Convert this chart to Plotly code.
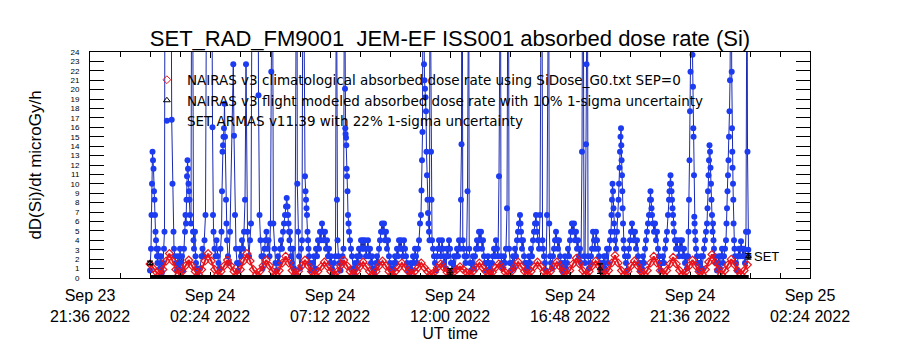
import pandas as pd
import plotly.graph_objects as go

# ---------------- data ----------------
t_start = pd.Timestamp("2022-09-24 00:00")

# NAIRAS v3 climatological absorbed dose rate (microGy/h), sampled every 465 s
red_vals = [1.5, 1.0, 0.6,
    0.4,0.9,1.8,2.6,1.8,0.9, 0.4,0.7,1.3,1.9,1.3,0.7,
    0.4,0.9,1.8,2.6,1.8,0.9, 0.4,0.7,1.3,1.9,1.3,0.7,
    0.4,0.9,1.8,2.6,1.8,0.9, 0.4,0.7,1.3,1.9,1.3,0.7,
    0.4,0.8,1.6,2.3,1.6,0.8, 0.4,0.7,1.3,1.9,1.3,0.7,
    0.4,0.7,1.2,1.7,1.2,0.7, 0.4,0.7,1.3,1.9,1.3,0.7,
    0.4,0.7,1.2,1.7,1.2,0.7, 0.4,0.7,1.3,1.8,1.3,0.7,
    0.4,0.7,1.1,1.6,1.1,0.7, 0.4,0.7,1.1,1.6,1.1,0.7,
    0.4,0.6,1.1,1.5,1.1,0.6, 0.4,0.6,0.9,1.2,0.9,0.6,
    0.4,0.7,1.1,1.6,1.1,0.7, 0.4,0.6,1.1,1.5,1.1,0.6,
    0.4,0.7,1.2,1.7,1.2,0.7, 0.4,0.7,1.2,1.7,1.2,0.7,
    0.4,0.7,1.2,1.7,1.2,0.7, 0.4,0.8,1.5,2.1,1.5,0.8,
    0.4,0.7,1.3,1.8,1.3,0.7, 0.4,0.8,1.6,2.4,1.6,0.8,
    0.4,0.7,1.3,1.8,1.3,0.7, 0.4,0.8,1.6,2.3,1.6,0.8,
    0.4,0.8,1.5,2.2,1.5,0.8, 0.4,0.7,1.3,1.9,1.3,0.7,
    0.4,0.9,1.7,2.5,1.7,0.9, 0.4,0.8,1.4,2.0,1.4,0.8,
    0.4, 0.8, 1.4]
red_times = pd.date_range(t_start, periods=len(red_vals), freq="465s")

# NAIRAS v3 flight modeled (few points with 10% 1-sigma) and baseline
black_min = [0.0, 720.0, 1080.0, 1436.0]
black_vals = [1.6, 0.7, 1.0, 2.3]
black_err = [0.2, 0.3, 0.5, 0.3]
base_min = [0.0, 360.0, 720.0, 1080.0, 1437.0]
base_vals = [0.0, 0.0, 0.0, 0.0, 0.0]

# SET ARMAS v11.39 (minutes after 2022-09-24 00:00, microGy/h)
blue_min = [
 0,2.4,3.6,4.8,6.0,7.2,8.4,9.6,10.8,12.0,13.2,14.4,15.6,16.8,18.0,19.2,21.6,24.0,26.4,28.8,
 31.2,33.6,34.8,36.0,50.4,52.1,54.0,56.4,57.6,60.0,62.4,64.8,
 67.2,69.6,72.0,74.4,76.8,79.2,81.6,84.0,85.2,86.4,87.6,88.8,90.0,91.2,92.4,93.6,94.8,96.0,98.4,100.1,102.0,103.2,104.4,105.6,108.0,109.2,110.4,112.8,115.2,
 120.0,123.6,126.0,128.4,130.8,133.2,136.1,148.1,150.0,151.2,152.4,154.8,157.2,159.6,162.0,164.4,166.8,169.2,171.6,172.8,174.0,175.2,176.4,177.6,178.8,180.0,182.4,183.6,184.8,187.2,189.6,192.0,199.9,201.6,204.0,206.4,208.8,211.2,
 213.6,216.0,218.4,220.8,223.2,225.6,228.0,230.4,234.0,237.6,240.0,242.4,245.3,259.2,260.4,262.8,265.2,267.6,270.0,272.4,274.8,277.2,279.6,282.0,284.4,286.8,289.2,291.1,292.3,294.0,
 296.0,298.8,301.2,303.6,307.2,309.6,312.0,314.4,316.8,319.2,321.6,324.0,326.4,328.1,330.0,331.2,332.4,333.6,334.8,336.0,337.2,338.4,340.8,343.2,345.6,348.0,351.6,352.8,353.5,355.2,357.6,360.0,362.4,364.8,367.2,368.4,372.0,373.2,374.4,375.6,376.8,378.0,379.2,380.4,381.6,384.0,386.4,
 391.2,393.6,396.0,398.4,400.8,403.2,405.6,408.0,410.4,412.8,415.2,417.6,420.0,422.4,424.8,427.2,429.6,432.0,434.4,436.8,439.2,441.6,445.2,447.4,448.6,450.0,452.4,454.8,457.2,459.6,462.0,464.4,466.8,468.0,468.7,469.4,470.4,471.1,471.8,472.8,474.0,475.2,476.4,477.6,480.0,482.4,484.8,487.2,
 489.6,492.0,494.4,496.8,499.2,501.6,504.0,506.4,508.8,511.2,513.6,516.0,518.4,520.8,523.2,525.6,528.0,530.4,532.8,535.2,537.6,540.0,542.4,544.8,547.2,549.6,552.0,554.4,556.8,559.2,561.6,564.0,566.4,568.8,571.2,573.6,576.0,578.4,580.8,583.2,585.6,588.0,590.4,592.8,595.2,597.6,600.0,602.4,604.8,607.2,609.6,612.0,614.4,616.8,619.2,621.6,624.0,626.4,628.8,631.2,633.6,636.0,638.4,640.8,643.2,645.6,648.0,
 650.4,651.6,652.8,654.0,655.2,656.4,657.6,658.8,660.0,661.2,662.4,663.6,664.8,666.0,667.2,668.4,669.6,670.8,672.0,673.2,674.4,675.6,676.8,679.2,681.6,684.0,686.4,688.8,691.2,693.6,696.0,698.4,700.8,703.2,705.6,708.0,710.4,712.8,715.2,717.6,720.0,722.4,724.8,
 727.2,729.6,732.0,734.4,736.8,739.2,741.6,744.0,746.4,747.6,748.3,749.5,750.7,752.4,754.8,757.2,759.6,762.0,763.7,764.9,766.1,768.0,770.4,772.8,775.2,777.6,780.0,782.4,784.8,787.2,789.6,792.0,794.4,796.8,799.2,801.6,804.0,806.4,808.8,811.2,813.6,816.0,818.4,820.8,823.2,825.6,828.0,830.4,832.8,835.2,837.6,840.0,841.2,842.4,844.8,847.2,849.6,852.0,854.4,856.8,859.2,860.4,861.6,864.0,866.4,
 868.8,871.2,873.6,876.0,878.4,880.8,883.2,885.6,888.0,889.2,890.4,891.6,892.8,895.2,897.6,900.0,902.4,904.8,907.2,909.6,912.0,914.4,916.8,919.2,921.6,924.0,926.4,927.6,928.8,931.2,933.6,936.0,939.6,940.8,942.0,943.2,945.6,948.0,950.4,952.8,955.7,956.9,958.1,960.0,962.4,964.8,
 967.2,969.6,972.0,974.4,976.8,979.2,981.6,984.0,986.4,988.8,991.2,993.6,996.0,998.4,1000.8,1003.2,1005.6,1008.0,1010.4,1012.8,1015.2,1017.6,1020.0,1022.4,1024.8,1027.2,1029.6,1032.0,1034.4,1036.8,1038.5,1039.7,1041.6,1044.0,1046.4,1047.6,1048.6,1049.8,1051.2,1053.6,1056.0,1058.4,1060.8,1063.2,1065.6,1068.0,1070.4,1072.8,1075.2,1077.6,1080.0,1082.4,
 1084.8,1087.2,1089.6,1092.0,1094.4,1096.8,1099.2,1101.6,1104.0,1106.4,1107.6,1108.8,1110.0,1111.2,1112.4,1113.6,1114.8,1116.0,1118.4,1120.8,1123.2,1124.4,1125.6,1126.8,1128.0,1129.2,1130.4,1131.1,1131.8,1132.8,1133.5,1134.2,1135.2,1136.4,1137.6,1140.0,1142.4,1144.8,1147.2,1149.6,1152.0,1154.4,1156.8,1159.2,1161.6,1164.0,1166.4,1168.8,1171.2,1173.6,1176.0,
 1178.4,1180.8,1183.2,1185.6,1188.0,1190.4,1192.8,1195.2,1197.6,1200.0,1201.2,1202.4,1203.6,1204.8,1207.2,1209.6,1212.0,1214.4,1216.8,1219.2,1221.6,1224.0,1226.4,1228.8,1231.2,1233.6,1236.0,1238.4,1240.8,1243.2,1245.6,1246.8,1248.0,1249.2,1250.4,1251.6,1252.8,1254.0,1255.2,1256.4,1257.6,1260.0,1262.4,1264.8,1267.2,1269.6,1272.0,1274.4,1276.8,1279.2,1281.6,1284.0,1286.4,1288.8,1291.2,1292.4,1293.6,1294.8,1296.0,1297.2,1298.4,1300.8,1302.0,1303.2,1303.9,1304.6,1305.6,1306.3,1307.0,1308.0,1309.2,1310.4,1312.8,1315.2,1317.6,
 1320.0,1322.4,1324.8,1327.2,1329.6,1332.0,1334.4,1336.8,1338.0,1339.2,1340.4,1341.6,1342.8,1344.0,1345.2,1346.4,1347.6,1348.8,1350.0,1351.2,1352.4,1353.6,1356.0,1358.4,1360.8,1363.2,1365.6,1368.0,1370.4,1372.8,1375.2,1377.6,1380.0,1382.4,1383.6,1384.8,1386.0,1387.2,1388.4,1389.6,1390.8,1392.0,1393.2,1394.9,1396.1,1396.8,1397.5,1398.2,1399.2,1399.9,1400.6,1401.6,1402.8,1404.0,1406.4,1408.8,1411.2,1413.6,1416.0,1418.4,1420.8,1423.2,1425.6,1428.0,1430.4,1431.6,1432.8,1434.0,1435.2,1435.9,1436.6]
blue_val = [
 0.8,3.1,6.7,10.0,13.4,12.5,11.6,9.2,8.3,6.7,4.9,4.0,3.1,2.3,1.6,3.1,2.3,1.0,2.3,0.6,
 1.6,3.1,4.9,38,38,16.8,10.0,4.9,3.1,2.3,1.6,0.8,
 2.3,1.0,3.1,1.6,2.3,0.8,3.1,4.9,6.7,5.8,8.3,10.8,12.5,11.6,10.0,9.2,8.3,6.7,5.8,38,38,4.9,4.0,3.1,4.9,2.3,1.6,1.0,0.6,
 1.0,2.3,3.1,2.3,4.0,6.7,38,38,16.0,6.7,4.9,3.1,2.3,4.0,2.3,1.6,1.0,3.1,4.9,9.2,13.4,14.1,15.0,15.9,18.5,15.0,8.3,5.8,4.0,2.3,1.6,4.9,22.7,15.1,6.7,3.1,1.6,0.8,
 1.6,3.1,2.3,4.0,3.1,4.9,8.3,22.7,4.9,2.3,4.0,5.8,38,38,19.4,6.7,4.0,2.3,1.0,2.3,3.1,4.0,4.9,3.1,4.0,2.3,5.8,21.9,38,38,
 5.8,3.1,1.6,0.8,2.3,1.6,3.1,4.0,3.1,4.9,5.8,6.7,7.6,8.5,7.6,6.7,5.8,4.9,4.0,4.9,3.1,2.3,1.6,3.1,1.0,0.6,38,38,10.0,4.9,2.3,1.0,3.1,4.0,38,38,10.8,9.2,8.3,7.4,6.7,4.9,4.0,3.1,2.3,1.6,0.8,
 1.6,2.3,1.0,3.1,2.3,4.0,3.1,4.9,4.0,5.8,4.9,4.0,4.9,3.1,4.0,2.3,3.1,1.6,2.3,1.0,0.6,1.6,2.3,38,8.3,4.0,2.3,1.6,0.8,1.6,2.3,3.1,38,20.1,15.9,15.3,14.9,14.1,11.6,10.8,9.2,6.7,5.8,4.9,4.0,3.1,2.3,1.0,
 0.6,1.6,1.0,2.3,1.6,3.1,2.3,4.0,3.1,4.0,3.1,4.0,2.3,3.1,4.0,2.3,3.1,1.6,2.3,1.0,0.6,1.0,1.6,2.3,1.6,3.1,4.0,4.9,5.8,4.9,5.8,4.0,4.9,3.1,4.0,2.3,1.6,1.0,0.6,1.0,1.6,2.3,1.6,3.1,2.3,4.0,3.1,4.0,3.1,2.3,4.0,3.1,2.3,1.6,1.0,0.6,1.0,1.6,0.8,2.3,1.6,3.1,2.3,1.6,3.1,4.0,5.8,
 6.7,9.3,12.5,15.5,38,38,22.7,21.0,20.1,19.2,17.7,13.4,10.9,8.3,6.9,5.8,4.9,4.0,38,38,13.4,8.3,4.0,3.1,2.3,1.6,0.8,2.3,3.1,4.0,3.1,2.3,4.0,3.1,1.6,2.3,1.0,3.1,2.3,4.0,3.1,1.6,0.8,
 1.6,2.3,1.0,2.3,3.1,2.3,4.0,3.1,8.3,14.2,38,38,4.0,3.1,2.3,1.6,2.3,9.2,38,38,3.1,1.6,0.8,1.6,2.3,1.0,2.3,3.1,4.0,3.1,4.9,4.0,4.9,3.1,4.0,2.3,1.6,0.8,1.6,2.3,1.6,1.0,0.6,1.6,2.3,3.1,2.3,4.0,3.1,2.3,10.8,38,38,2.3,1.6,1.0,2.3,1.6,3.1,7.4,38,38,3.1,1.6,0.8,
 1.6,2.3,1.0,3.1,2.3,4.0,4.9,5.8,6.7,5.8,4.9,4.0,3.1,4.0,2.3,1.6,0.8,1.6,1.0,2.3,1.6,3.1,2.3,4.0,4.9,5.8,6.7,5.8,4.9,4.0,3.1,6.7,38,38,4.0,3.1,2.3,1.6,0.8,6.7,38,38,5.8,2.3,1.6,1.0,
 2.3,3.1,4.0,4.9,4.0,3.1,4.0,2.3,1.6,1.0,0.6,1.6,2.3,1.0,1.6,3.1,2.3,4.0,4.9,5.8,4.9,5.8,4.0,4.9,3.1,4.0,2.3,3.1,1.6,13.4,38,38,2.3,1.6,14.2,22.7,38,38,2.3,1.0,1.6,2.3,3.1,4.9,4.0,3.1,4.9,4.0,3.1,2.3,1.6,1.0,
 0.6,1.6,2.3,1.0,2.3,3.1,1.6,3.1,4.0,4.9,6.7,8.3,10.0,9.2,7.4,5.8,4.9,4.0,3.1,4.9,6.7,8.3,10.0,11.7,13.4,15.0,15.9,14.1,12.5,10.9,9.2,7.4,5.8,4.0,3.1,2.3,1.6,0.8,2.3,3.1,4.0,4.9,5.8,4.9,4.0,4.9,3.1,4.0,2.3,1.6,0.8,
 1.6,1.0,2.3,1.6,3.1,4.0,4.9,5.8,6.7,8.3,9.2,8.3,7.4,6.7,5.8,4.9,5.8,4.0,4.9,3.1,2.3,1.6,0.8,1.6,2.3,1.6,3.1,4.0,4.9,6.7,8.3,9.2,10.0,10.9,10.0,9.2,8.3,7.4,6.7,5.8,4.9,4.0,3.1,4.0,3.1,2.3,4.0,3.1,4.0,2.3,3.1,1.6,2.3,1.0,2.3,4.9,8.3,12.5,17.7,21.9,38,38,23.7,20.3,15.9,15.0,10.9,6.5,5.8,4.9,4.0,3.1,2.3,1.6,0.8,
 1.6,2.3,1.0,2.3,3.1,4.0,4.9,5.8,7.4,9.2,10.9,12.5,14.1,13.4,11.7,10.0,8.3,6.7,4.9,5.8,4.0,3.1,2.3,1.6,0.8,1.6,2.3,1.0,2.3,3.1,1.6,2.3,3.1,4.0,5.8,7.4,9.2,10.9,12.5,15.0,17.7,21.0,38,38,21.9,15.9,13.4,11.7,10.0,8.3,5.8,4.0,3.1,2.3,1.6,0.8,2.3,3.1,2.3,3.9,3.1,2.3,3.1,1.6,4.9,38,38,13.4,4.9,3.0,2.3]

x_tick_times = ["2022-09-23 21:36", "2022-09-24 02:24", "2022-09-24 07:12", "2022-09-24 12:00",
                "2022-09-24 16:48", "2022-09-24 21:36", "2022-09-25 02:24"]
x_tick_text = ["Sep 23<br>21:36 2022", "Sep 24<br>02:24 2022", "Sep 24<br>07:12 2022",
               "Sep 24<br>12:00 2022", "Sep 24<br>16:48 2022", "Sep 24<br>21:36 2022",
               "Sep 25<br>02:24 2022"]
y_ticks = list(range(0, 25))

# ---------------- figure ----------------
def mins(m):
    return [t_start + pd.Timedelta(minutes=v) for v in m]

FONT = "Liberation Sans"
LFONT = "DejaVu Sans"
BLUE_M = "#1d3cf2"
BLUE_L = "#1a2ab0"
RED = "#e8141c"

fig = go.Figure()

fig.add_trace(go.Scatter(x=mins(blue_min), y=blue_val, mode="lines+markers",
                         line=dict(color=BLUE_L, width=1),
                         marker=dict(color=BLUE_M, size=6, symbol="circle"),
                         showlegend=False, cliponaxis=True))
fig.add_trace(go.Scatter(x=red_times, y=red_vals, mode="lines+markers",
                         line=dict(color=RED, width=2),
                         marker=dict(color=RED, size=6, symbol="diamond-open", line=dict(width=1.2)),
                         showlegend=False))
fig.add_trace(go.Scatter(x=mins(base_min), y=base_vals, mode="lines",
                         line=dict(color="black", width=6), showlegend=False))
fig.add_trace(go.Scatter(x=mins(black_min), y=black_vals, mode="markers",
                         marker=dict(color="black", size=5, symbol="triangle-up-open"),
                         error_y=dict(type="data", array=black_err, color="black", thickness=1.2, width=3),
                         showlegend=False))

# legend entries
fig.add_trace(go.Scatter(x=[None], y=[None], mode="markers", legendrank=1,
                         marker=dict(color=RED, size=6, symbol="diamond-open"),
                         name="NAIRAS v3 climatological absorbed dose rate using SiDose_G0.txt SEP=0"))
fig.add_trace(go.Scatter(x=[None], y=[None], mode="markers", legendrank=2,
                         marker=dict(color="black", size=6, symbol="triangle-up-open"),
                         name="NAIRAS v3 flight modeled absorbed dose rate with 10% 1-sigma uncertainty"))
fig.add_trace(go.Scatter(x=[None], y=[None], mode="markers", legendrank=3,
                         marker=dict(color=BLUE_M, size=6, symbol="circle"),
                         name="SET ARMAS v11.39 with 22% 1-sigma uncertainty"))

fig.add_annotation(x=mins([blue_min[-1]])[0], y=blue_val[-1], text="SET", showarrow=False,
                   xanchor="left", yanchor="middle", xshift=3,
                   font=dict(family=FONT, size=13, color="black"))

fig.update_layout(
    width=900, height=350,
    margin=dict(l=90, r=90, t=52, b=72),
    paper_bgcolor="white", plot_bgcolor="white",
    font=dict(family=FONT, color="black"),
    title=dict(text="SET_RAD_FM9001\u00a0\u00a0JEM-EF ISS001 absorbed dose rate (Si)",
               x=0.5, xanchor="center", y=1 - 38 / 350, yanchor="middle",
               font=dict(family=FONT, size=22, color="black")),
    legend=dict(x=0.079, y=0.945, xanchor="left", yanchor="top",
                bgcolor="rgba(0,0,0,0)", borderwidth=0,
                font=dict(family=LFONT, size=13.5, color="black"),
                itemwidth=30, tracegroupgap=0),
    showlegend=True,
)
fig.update_xaxes(
    type="date",
    range=["2022-09-23 21:36", "2022-09-25 02:24"],
    tickmode="array", tickvals=x_tick_times, ticktext=x_tick_text,
    ticks="inside", ticklen=6, tickcolor="black", mirror="allticks",
    showline=True, linecolor="black", linewidth=1, showgrid=False, zeroline=False,
    tickfont=dict(family=FONT, size=16, color="black"),
    ticklabelstandoff=3,
    minor=dict(ticks="inside", ticklen=5, tickcolor="black",
               dtick=72 * 60 * 1000, tick0="2022-09-23 21:36", showgrid=False),
    title=dict(text="UT time", font=dict(family=FONT, size=16, color="black"), standoff=2),
)
fig.update_yaxes(
    range=[0, 24], tickmode="array", tickvals=y_ticks, ticktext=[str(v) for v in y_ticks],
    ticks="inside", ticklen=14, tickcolor="black", mirror="allticks",
    showline=True, linecolor="black", linewidth=1, showgrid=False, zeroline=False,
    tickfont=dict(family=FONT, size=8, color="black"),
    ticklabelstandoff=8,
    title=dict(text="dD(Si)/dt microGy/h", font=dict(family=FONT, size=17, color="black"), standoff=24),
)

fig.write_html("out.html")
